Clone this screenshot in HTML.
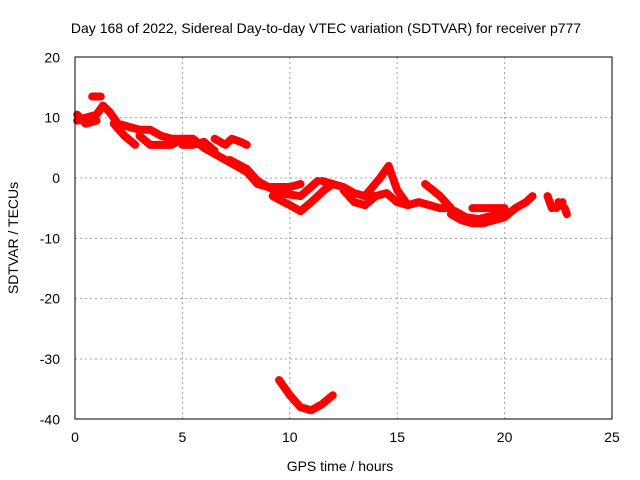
<!DOCTYPE html>
<html><head><meta charset="utf-8"><style>
body{margin:0;background:#fff;}
svg{display:block;font-family:"Liberation Sans",sans-serif;}
</style></head><body>
<svg id="chart" width="640" height="480" xmlns="http://www.w3.org/2000/svg">
<text x="326" y="33" font-size="14" text-anchor="middle">Day 168 of 2022, Sidereal Day-to-day VTEC variation (SDTVAR) for receiver p777</text>
<text x="340" y="471" font-size="14" text-anchor="middle">GPS time / hours</text>
<text transform="translate(18,238) rotate(-90)" font-size="14" text-anchor="middle">SDTVAR / TECUs</text>
<g id="grid"></g><g id="ticks"></g><g id="series"></g>
<rect x="75" y="57" width="537" height="362" fill="none" stroke="#000" stroke-width="1"/>
</svg>
<script>
const xTicks=[0,5,10,15,20,25];
const yTicks=[20,10,0,-10,-20,-30,-40];
const tracks=[
 [[0.1,9.5],[0.5,10],[1,10.5],[1.3,12],[1.6,11],[2,9],[2.5,8.5],[3,8],[3.5,8],[4,7],[4.5,6.5],[5,6.5],[5.5,6.5],[6,5],[6.5,4],[7,3],[7.5,2],[8,1],[8.5,-1],[9,-1.5],[9.5,-1.5],[10,-1.5],[10.5,-1]],
 [[0.1,10.5],[0.5,9],[1,9.5]],
 [[1.8,9],[2.3,7],[2.8,5.5]],
 [[3,7],[3.5,5.5],[4,5.5],[4.5,5.5],[5,6.5]],
 [[5,5.5],[5.5,5.5],[6,6],[6.5,4.5]],
 [[6.5,6.5],[7,5.5],[7.3,6.5],[7.7,6],[8,5.5]],
 [[7.2,3],[8,1.5],[8.5,-0.5],[9.5,-2.5],[10.5,-3],[11.3,-0.5]],
 [[9.2,-3],[10,-4.5],[10.5,-5.5],[11,-4],[11.6,-2],[12,-1]],
 [[11.5,-0.5],[12,-1],[12.5,-1.5],[13,-2.5],[13.5,-3],[14,-3],[14.5,-2.5],[15,-4],[15.5,-4.5],[16,-4],[16.5,-4.5],[17,-5],[17.5,-5]],
 [[13.5,-3],[14.2,0],[14.6,2],[15,-2],[15.5,-4.5]],
 [[12.5,-2],[13,-4],[13.5,-4.5],[14,-3]],
 [[16.3,-1],[17,-3],[17.5,-5]],
 [[17.5,-6],[18,-7],[18.5,-7.5],[19,-7.5],[19.5,-7],[20,-6.5],[20.5,-5],[21,-4],[21.3,-3]],
 [[17.7,-5.5],[18.2,-6.5],[18.8,-6.8],[19.5,-6.2],[20,-5.5]],
 [[18.5,-5],[19.5,-5],[20,-5]],
 [[22,-3],[22.2,-5]],
 [[22.5,-4],[22.8,-5],[22.9,-6]],
 [[22.4,-5],[22.7,-4]],
 [[0.8,13.5],[1.2,13.5]],
 [[9.5,-33.5],[10,-36],[10.5,-38],[11,-38.5],[11.5,-37.5],[12,-36]]
];
const NS="http://www.w3.org/2000/svg";
const xs=h=>75+h*537/25;
const ys=v=>178-v*362/60;
function mk(t,a,p){const e=document.createElementNS(NS,t);for(const k in a)e.setAttribute(k,a[k]);p.appendChild(e);return e;}
const grid=document.getElementById('grid'),ticks=document.getElementById('ticks'),ser=document.getElementById('series');
xTicks.forEach(t=>{
 const x=xs(t);
 if(t>0&&t<25){const g=mk('line',{x1:x,x2:x,y1:57,y2:419,stroke:'#a0a0a0','stroke-dasharray':'2,3'},grid);
 
 }
 const l=mk('text',{x:x,y:442,'font-size':14,'text-anchor':'middle'},ticks);l.textContent=t;
 
 
});
yTicks.forEach(t=>{
 const y=ys(t);
 if(t>-40&&t<20){const g=mk('line',{x1:75,x2:612,y1:y,y2:y,stroke:'#a0a0a0','stroke-dasharray':'2,3'},grid);
 
 }
 const l=mk('text',{x:60,y:y+5,'font-size':14,'text-anchor':'end'},ticks);l.textContent=t;
 
 
});
tracks.forEach(tr=>{
 const p=mk('polyline',{points:tr.map(d=>xs(d[0])+','+ys(d[1])).join(' '),fill:'none',stroke:'#ff0000','stroke-width':8,'stroke-linejoin':'round','stroke-linecap':'round'},ser);
 
 
});
</script>
</body></html>
